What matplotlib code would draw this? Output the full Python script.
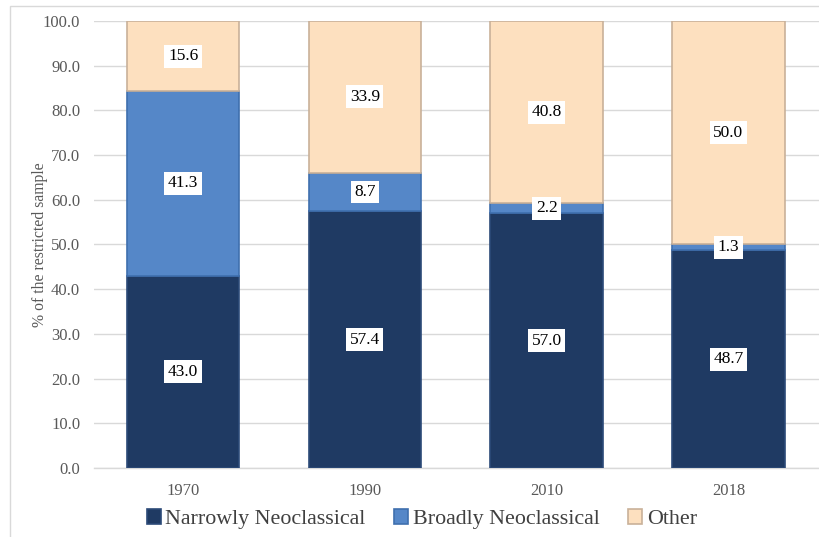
import matplotlib.pyplot as plt
import numpy as np
from matplotlib.patches import Rectangle

years = ['1970', '1990', '2010', '2018']
narrow = [43.0, 57.4, 57.0, 48.7]
broad = [41.3, 8.7, 2.2, 1.3]
other = [15.6, 33.9, 40.8, 50.0]
series_names = ['Narrowly Neoclassical', 'Broadly Neoclassical', 'Other']
colors = ['#1f3a63', '#5587c8', '#fde0bf']
edges = ['#2c4a78', '#3f6fae', '#c9b199']

plt.rcParams['font.family'] = ['Liberation Serif', 'DejaVu Serif']

fig = plt.figure(figsize=(8.19, 5.37), dpi=100)
ax = fig.add_axes([0.1148, 0.1285, 0.89, 0.8324])

x = np.arange(len(years))
bottom = np.zeros(len(years))
handles = []
for vals, col, ec, name in zip([narrow, broad, other], colors, edges, series_names):
    bars = ax.bar(x, vals, width=0.62, bottom=bottom, color=col,
                  edgecolor=ec, linewidth=1.2, label=name, zorder=3)
    handles.append(bars)
    for xi, b, v in zip(x, bottom, vals):
        ax.text(xi, b + v / 2, f'{v:.1f}', ha='center', va='center',
                fontsize=12.5, color='black', zorder=5,
                bbox=dict(facecolor='white', edgecolor='none', pad=2.5))
    bottom += np.array(vals)

ax.set_xlim(-0.49, 3.52)
ax.set_ylim(0, 100)
ax.set_yticks(np.arange(0, 101, 10))
ax.set_yticklabels([f'{v:.1f}' for v in np.arange(0, 101, 10)])
ax.set_xticks(x)
ax.set_xticklabels(years)
ax.yaxis.grid(True, color='#d9d9d9', linewidth=1.0, zorder=0)
ax.set_axisbelow(True)
for s in ['top', 'right', 'left']:
    ax.spines[s].set_visible(False)
ax.spines['bottom'].set_color('#d9d9d9')
ax.spines['bottom'].set_linewidth(1.0)
ax.tick_params(axis='both', length=0, colors='#595959', labelsize=12)
ax.tick_params(axis='y', pad=10)
ax.tick_params(axis='x', pad=11)
ax.set_ylabel('% of the restricted sample', fontsize=11.3, color='#595959', labelpad=-4)

fig.legend(handles=handles, labels=series_names, loc='lower center',
           bbox_to_anchor=(0.515, -0.022), ncol=3, frameon=False,
           fontsize=15.8, handlelength=0.65, handleheight=0.65,
           handletextpad=0.2, columnspacing=1.3, labelcolor='#404040')

# thin outer border of the chart area
fig.patches.append(Rectangle((10 / 819, -0.01), 1.0, 1 - 6 / 537 + 0.01,
                             transform=fig.transFigure, fill=False,
                             edgecolor='#d9d9d9', linewidth=1.0))

fig.savefig('out.png', dpi=100)
